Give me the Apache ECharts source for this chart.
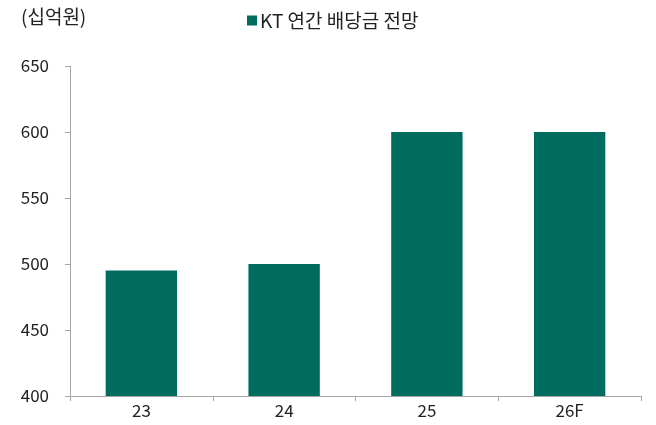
<!DOCTYPE html>
<html><head><meta charset="utf-8">
<script src="https://cdn.jsdelivr.net/npm/echarts@6/dist/echarts.min.js"></script>
<style>html,body{margin:0;padding:0;background:#fff}#c{width:656px;height:425px}</style>
</head><body><div id="c"></div>
<script>
const categories = ['23', '24', '25', '26F'];
const dividends = [495, 500, 600, 600];
const seriesName = 'KT 연간 배당금 전망';
const unitLabel = '(십억원)';
const yMin = 400, yMax = 650, yStep = 50;

const font = '"Noto Sans CJK KR", "Noto Sans", sans-serif';
const chart = echarts.init(document.getElementById('c'), null, {renderer: 'canvas'});
chart.setOption({
  animation: false,
  textStyle: {fontFamily: font},
  graphic: [{type: 'text', left: 21, top: 7, style: {text: unitLabel, font: '19px ' + font, fill: '#222'}}],
  legend: {
    data: [seriesName], left: 242, top: 6, icon: 'rect', itemWidth: 10, itemHeight: 10, itemGap: 3,
    textStyle: {fontSize: 19, color: '#222', fontFamily: font, padding: [0, 0, 0, -2]}
  },
  grid: {left: 70, right: 15, top: 66, bottom: 29, containLabel: false},
  xAxis: {
    type: 'category', data: categories,
    axisLine: {lineStyle: {color: '#a6a6a6', width: 1}},
    axisTick: {show: true, length: 5, lineStyle: {color: '#a6a6a6'}},
    axisLabel: {color: '#222', fontSize: 17, margin: 6, fontFamily: font}
  },
  yAxis: {
    type: 'value', min: yMin, max: yMax, interval: yStep,
    splitLine: {show: false},
    axisLine: {show: true, lineStyle: {color: '#a6a6a6', width: 1}},
    axisTick: {show: true, length: 5, lineStyle: {color: '#a6a6a6'}},
    axisLabel: {color: '#222', fontSize: 17, margin: 21, fontFamily: font}
  },
  series: [{
    name: seriesName, type: 'bar', data: dividends, barWidth: '50%',
    itemStyle: {color: '#006b5f'}
  }]
});
</script></body></html>
